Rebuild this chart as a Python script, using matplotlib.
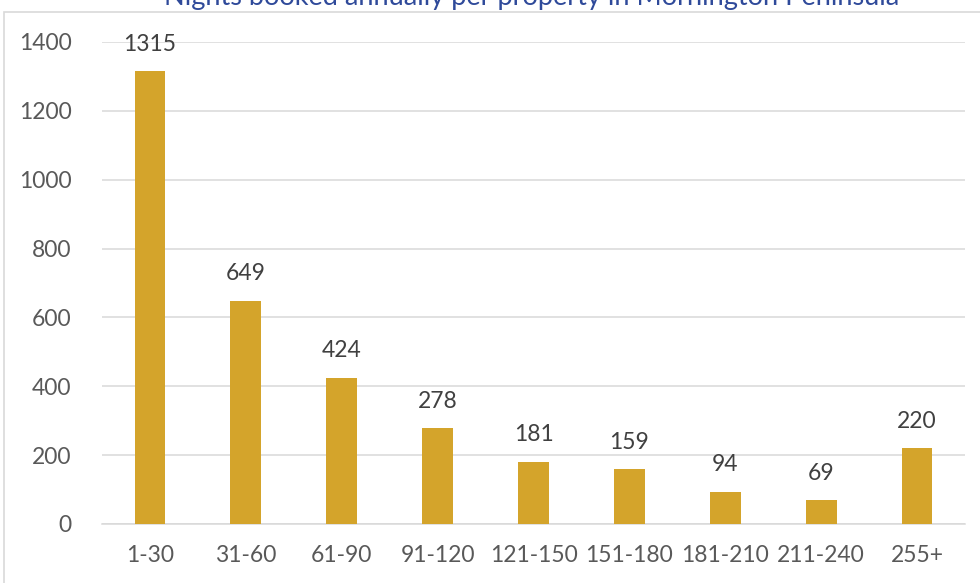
import matplotlib.pyplot as plt
from matplotlib.patches import Rectangle

categories = ['1-30', '31-60', '61-90', '91-120', '121-150', '151-180', '181-210', '211-240', '255+']
nights = [1315, 649, 424, 278, 181, 159, 94, 69, 220]
yticks = [0, 200, 400, 600, 800, 1000, 1200, 1400]
title = 'Nights booked annually per property in Mornington Peninsula'

plt.rcParams['font.family'] = ['Lato', 'DejaVu Sans']

fig = plt.figure(figsize=(9.8, 5.83), dpi=100)
ax = fig.add_axes([102 / 980, 1 - 524 / 583, (965 - 102) / 980, (524 - 42) / 583])

# outer chart border (top and left visible)
fig.patches.append(Rectangle((4 / 980, -0.1), 1.2, 1.1 - 12 / 583, transform=fig.transFigure,
                             fill=False, edgecolor='#D9D9D9', linewidth=1.2, zorder=0))

x = range(len(categories))
bars = ax.bar(x, nights, width=0.32, color='#D4A42B', zorder=3)

for xi, v in zip(x, nights):
    ax.annotate(str(v), (xi, v), xytext=(0, 19.5), textcoords='offset points',
                ha='center', va='center', fontsize=16.5, color='#404040')

ax.set_xlim(-0.5, len(categories) - 0.5)
ax.set_ylim(0, 1400)
ax.set_yticks(yticks)
ax.set_xticks(list(x))
ax.set_xticklabels(categories)
ax.tick_params(length=0, labelsize=16.5, labelcolor='#595959')
ax.tick_params(axis='y', pad=22)
ax.tick_params(axis='x', pad=15)
ax.grid(axis='y', color='#D9D9D9', linewidth=1.1, zorder=0)
for s in ['top', 'right', 'left']:
    ax.spines[s].set_visible(False)
ax.spines['bottom'].set_color('#D9D9D9')
ax.spines['bottom'].set_linewidth(1.1)

fig.text(532 / 980, 1 - 5 / 583, title, ha='center', va='baseline', fontsize=19.5, color='#2F4A9A')

fig.savefig('out.png', dpi=100)
